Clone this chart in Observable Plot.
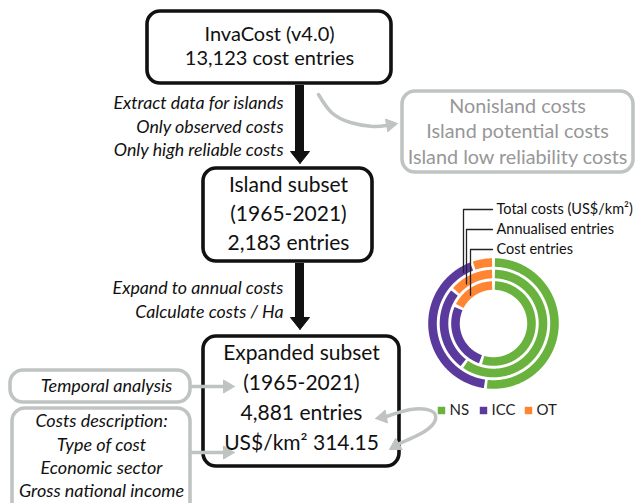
<!DOCTYPE html>
<html><head><meta charset="utf-8">
<script src="https://cdn.jsdelivr.net/npm/d3@7"></script>
<script src="https://cdn.jsdelivr.net/npm/@observablehq/plot@0.6"></script>
<style>body{margin:0;background:#fff} svg{display:block}</style>
</head><body><div id="chart"></div>
<script>
// ---------------- data (text content and values) ----------------
const sourceLines = ["InvaCost (v4.0)", "13,123 cost entries"];
const filterSteps = ["Extract data for islands", "Only observed costs", "Only high reliable costs"];
const excludedLines = ["Nonisland costs", "Island potential costs", "Island low reliability costs"];
const islandLines = ["Island subset", "(1965-2021)", "2,183 entries"];
const expandSteps = ["Expand to annual costs", "Calculate costs / Ha"];
const expandedLines = ["Expanded subset", "(1965-2021)", "4,881 entries", "US$/km\u00B2 314.15"];
const temporalLines = ["Temporal analysis"];
const descriptionLines = ["Costs description:", "Type of cost", "Economic sector", "Gross national income"];

const groups = ["NS", "ICC", "OT"];
const ringLabels = ["Total costs (US$/km\u00B2)", "Annualised entries", "Cost entries"];
const totalCostsShare = [52, 42.5, 5.5];
const annualisedShare = [60, 26, 14];
const costEntriesShare = [55, 27, 18];
const groupColors = ["#6ab23e", "#5a3a9c", "#ff8533"];

// ---------------- layout ----------------
const W = 636, H = 503;
const BLACK = "#111", GREY = "#bfc4c2", GREYTXT = "#979797";
const boxes = [
  {x1: 147, x2: 391, y1: 11, y2: 83, stroke: BLACK},
  {x1: 402, x2: 633, y1: 91, y2: 172, stroke: GREY},
  {x1: 203, x2: 372, y1: 168, y2: 261, stroke: BLACK},
  {x1: 203, x2: 399, y1: 336, y2: 466, stroke: BLACK},
  {x1: 10, x2: 190, y1: 370, y2: 402, stroke: GREY},
  {x1: 12, x2: 190, y1: 408, y2: 515, stroke: GREY}
];
const blocks = [
  {lines: sourceLines, x: 269, y0: 34, dy: 24, size: 20, anchor: "middle", style: "normal", fill: BLACK},
  {lines: filterSteps, x: 283, y0: 103, dy: 23.5, size: 17.8, anchor: "end", style: "italic", fill: BLACK},
  {lines: excludedLines, x: 517, y0: 106, dy: 25.5, size: 19.8, anchor: "middle", style: "normal", fill: GREYTXT},
  {lines: islandLines, x: 288, y0: 185, dy: 29, size: 21, anchor: "middle", style: "normal", fill: BLACK},
  {lines: expandSteps, x: 283, y0: 288, dy: 23.5, size: 17.8, anchor: "end", style: "italic", fill: BLACK},
  {lines: expandedLines, x: 301, y0: 353, dy: 30, size: 21, anchor: "middle", style: "normal", fill: BLACK},
  {lines: temporalLines, x: 106, y0: 386, dy: 23, size: 18, anchor: "middle", style: "italic", fill: BLACK},
  {lines: descriptionLines, x: 101, y0: 421, dy: 23.3, size: 18, anchor: "middle", style: "italic", fill: BLACK}
];
const texts = blocks.flatMap(b => b.lines.map((t, i) => ({text: t, x: b.x, y: b.y0 + i * b.dy, size: b.size, anchor: b.anchor, style: b.style, fill: b.fill})));

// arrowhead polygon from tip, direction (deg), length, half width
function head(id, tx, ty, deg, L, hw) {
  const a = deg * Math.PI / 180, c = Math.cos(a), s = Math.sin(a);
  const bx = tx - L * c, by = ty - L * s;
  return [{id, x: tx, y: ty}, {id, x: bx - hw * s, y: by + hw * c}, {id, x: bx + hw * s, y: by - hw * c}, {id, x: tx, y: ty}];
}
function angleTo(p, q) { return Math.atan2(q[1] - p[1], q[0] - p[0]) * 180 / Math.PI; }

// black block arrows
const blackShafts = [{x1: 295, x2: 304, y1: 85, y2: 153}, {x1: 295, x2: 304, y1: 263, y2: 318}];
const blackHeads = [...head("b1", 299.5, 163, 90, 12, 9.5), ...head("b2", 299.5, 329, 90, 12, 9.5)];

// grey arrows
const greyPaths = [
  {id: "g1", pts: [[318, 94], [331, 112], [350, 122], [372, 126], [386, 125]], tip: [397, 123]},
  {id: "g2", pts: [[192, 386], [223, 386]], tip: [234, 386]},
  {id: "g3", pts: [[192, 452], [223, 452]], tip: [234, 452]},
  {id: "g4", pts: [[386, 416], [410, 409], [430, 410], [435, 419], [424, 431], [399, 443]], tip: [389, 449]}
];
const greyLinePts = greyPaths.flatMap(p => p.pts.map(([x, y]) => ({id: p.id, x, y})));
const greyHeads = greyPaths.flatMap(p => head(p.id, p.tip[0], p.tip[1], angleTo(p.pts[p.pts.length - 1], p.tip), 11, 6.5))
  .concat(head("g4s", 375, 418, angleTo([386, 416], [375, 418]), 11, 6.5));

// donut
const cx = 493, cy = 323;
const ringRadii = [61, 49.5, 38];
const ringWidth = 8.6;
const shares = [totalCostsShare, annualisedShare, costEntriesShare];
const arcPts = [];
shares.forEach((vals, ri) => {
  const r = ringRadii[ri];
  const total = d3.sum(vals);
  let start = 0;
  vals.forEach((v, gi) => {
    const a0 = start / total * 2 * Math.PI, a1 = (start + v) / total * 2 * Math.PI;
    start += v;
    const g = 1.4 / r;
    const n = Math.max(2, Math.ceil((a1 - a0) / 0.01));
    for (let k = 0; k <= n; k++) {
      const a = a0 + g + (a1 - a0 - 2 * g) * k / n;
      arcPts.push({key: ri + "-" + gi, color: groupColors[gi], x: cx + r * Math.sin(a), y: cy - r * Math.cos(a)});
    }
  });
});
const leaderX = [463, 466, 470];
const labelY = [209, 229, 249];
const leaderPts = ringLabels.flatMap((l, i) => {
  const dx = leaderX[i] - cx;
  const yEnd = cy - Math.sqrt(ringRadii[i] ** 2 - dx * dx) + 2;
  return [{id: i, x: 492, y: labelY[i]}, {id: i, x: leaderX[i], y: labelY[i]}, {id: i, x: leaderX[i], y: yEnd}];
});
const ringText = ringLabels.map((t, i) => ({text: t, x: 496, y: labelY[i]}));
const legendSq = [441, 483, 528];
const legend = groups.map((g, i) => ({g, color: groupColors[i], sx: legendSq[i], tx: legendSq[i] + 8, y: 410}));

const chart = Plot.plot({
  width: W, height: H, margin: 0,
  x: {domain: [0, W], range: [0, W], axis: null},
  y: {domain: [0, H], range: [0, H], axis: null},
  color: {type: "identity"},
  style: {background: "white", fontFamily: "Lato, 'Open Sans', sans-serif"},
  marks: [
    // black arrows
    Plot.rect(blackShafts, {x1: "x1", x2: "x2", y1: "y1", y2: "y2", fill: BLACK}),
    Plot.line(blackHeads, {x: "x", y: "y", z: "id", fill: BLACK, stroke: BLACK, strokeWidth: 1}),
    // boxes
    Plot.rect(boxes, {x1: "x1", x2: "x2", y1: "y1", y2: "y2", rx: 13, fill: "white", stroke: "stroke", strokeWidth: 3.6}),
    // grey connectors
    Plot.line(greyLinePts, {x: "x", y: "y", z: "id", stroke: GREY, strokeWidth: 3.5, curve: "natural"}),
    Plot.line(greyHeads, {x: "x", y: "y", z: "id", fill: GREY, stroke: GREY, strokeWidth: 1}),
    // text
    Plot.text(texts.filter(d => d.style === "normal"), {x: "x", y: "y", text: "text", fill: "fill", fontSize: d => d.size, textAnchor: d => d.anchor}),
    ...blocks.filter(b => b.style === "italic").map(b => Plot.text(b.lines.map((t, i) => ({t, y: b.y0 + i * b.dy})), {x: () => b.x, y: "y", text: "t", fontSize: b.size, fontStyle: "italic", textAnchor: b.anchor, fill: b.fill})),
    // donut rings
    Plot.line(arcPts, {x: "x", y: "y", z: "key", stroke: "color", strokeWidth: ringWidth, strokeLinecap: "butt"}),
    Plot.line(leaderPts, {x: "x", y: "y", z: "id", stroke: "#222", strokeWidth: 1.3}),
    Plot.text(ringText, {x: "x", y: "y", text: "text", textAnchor: "start", fontSize: 14.5, fill: "#111"}),
    // legend
    Plot.dot(legend, {x: "sx", y: "y", symbol: "square", r: 4.2, fill: "color", stroke: null}),
    Plot.text(legend, {x: "tx", y: "y", text: "g", textAnchor: "start", fontSize: 15, fill: "#222"})
  ]
});
document.getElementById("chart").appendChild(chart);
</script>
</body></html>
